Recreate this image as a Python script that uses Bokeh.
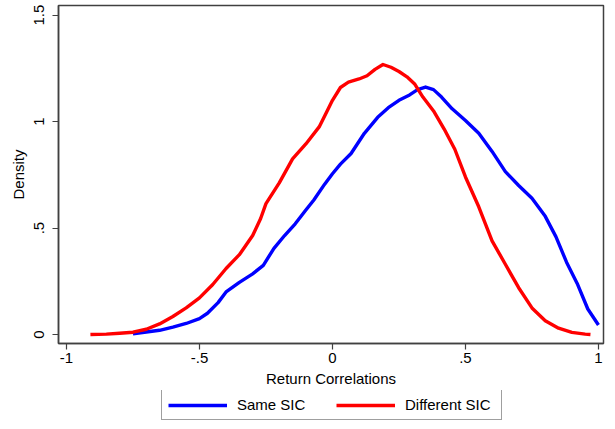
from bokeh.plotting import figure
from bokeh.layouts import column
from bokeh.models import Range1d, FixedTicker, Legend, LegendItem
from bokeh.embed import file_html
from bokeh.resources import INLINE

# Different SIC (red) kernel density
diff_x = [-0.91, -0.85, -0.80, -0.75, -0.70, -0.65, -0.60, -0.55, -0.50, -0.45,
          -0.40, -0.35, -0.30, -0.27, -0.25, -0.20, -0.15, -0.10, -0.05, -0.02,
          0.00, 0.03, 0.06, 0.10, 0.13, 0.16, 0.19, 0.22, 0.25, 0.28,
          0.31, 0.34, 0.38, 0.42, 0.46, 0.50, 0.55, 0.60, 0.65, 0.70,
          0.75, 0.80, 0.85, 0.90, 0.95, 0.97]
diff_y = [0.000, 0.002, 0.006, 0.011, 0.025, 0.050, 0.085, 0.125, 0.172, 0.235,
          0.310, 0.375, 0.465, 0.545, 0.615, 0.712, 0.825, 0.895, 0.975, 1.050,
          1.100, 1.160, 1.185, 1.200, 1.215, 1.245, 1.268, 1.255, 1.235, 1.210,
          1.175, 1.115, 1.050, 0.965, 0.870, 0.740, 0.600, 0.440, 0.330, 0.220,
          0.125, 0.065, 0.030, 0.010, 0.002, 0.000]

# Same SIC (blue) kernel density
same_x = [-0.75, -0.70, -0.65, -0.60, -0.55, -0.50, -0.47, -0.43, -0.40, -0.35,
          -0.30, -0.26, -0.22, -0.18, -0.14, -0.10, -0.07, -0.03, 0.00, 0.03,
          0.07, 0.12, 0.17, 0.21, 0.25, 0.29, 0.32, 0.35, 0.38, 0.41,
          0.45, 0.50, 0.55, 0.60, 0.65, 0.70, 0.75, 0.80, 0.84, 0.88,
          0.92, 0.96, 1.00]
same_y = [0.003, 0.012, 0.020, 0.035, 0.052, 0.075, 0.100, 0.150, 0.200, 0.245,
          0.285, 0.325, 0.405, 0.465, 0.520, 0.585, 0.632, 0.705, 0.755, 0.800,
          0.850, 0.945, 1.020, 1.065, 1.100, 1.125, 1.150, 1.162, 1.150, 1.115,
          1.060, 1.005, 0.945, 0.860, 0.765, 0.700, 0.640, 0.555, 0.460, 0.340,
          0.240, 0.120, 0.045]

series_labels = ["Same SIC", "Different SIC"]
series_colors = ["#0000ff", "#ff0000"]

x_ticks = [-1, -0.5, 0, 0.5, 1]
x_tick_labels = ["-1", "-.5", "0", ".5", "1"]
y_ticks = [0, 0.5, 1, 1.5]
y_tick_labels = ["0", ".5", "1", "1.5"]

FONT = "Liberation Sans"
FRAME = "#404040"

# ---- main plot ----
p = figure(width=607, height=390, output_backend="svg", toolbar_location=None,
           x_range=Range1d(-1.030, 1.019), y_range=Range1d(-0.042, 1.545),
           min_border_left=58, min_border_right=4, min_border_top=5,
           min_border_bottom=47)
p.grid.visible = False
p.outline_line_color = FRAME
p.outline_line_width = 1.5
p.background_fill_color = "white"
p.border_fill_color = "white"

p.line(same_x, same_y, line_color=series_colors[0], line_width=3.4, line_join="round")
p.line(diff_x, diff_y, line_color=series_colors[1], line_width=3.4, line_join="round")

xa = p.xaxis[0]
xa.ticker = FixedTicker(ticks=x_ticks)
xa.major_label_overrides = {t: s for t, s in zip(x_ticks, x_tick_labels)}
xa.axis_label = "Return Correlations"
ya = p.yaxis[0]
ya.ticker = FixedTicker(ticks=y_ticks)
ya.major_label_overrides = {t: s for t, s in zip(y_ticks, y_tick_labels)}
ya.axis_label = "Density"
ya.major_label_orientation = "vertical"

for ax in (xa, ya):
    ax.axis_line_color = FRAME
    ax.axis_line_width = 1.5
    ax.major_tick_line_color = FRAME
    ax.major_tick_line_width = 1.2
    ax.major_tick_out = 6
    ax.major_tick_in = 0
    ax.minor_tick_line_color = None
    ax.major_label_text_font = FONT
    ax.major_label_text_font_size = "15px"
    ax.major_label_text_color = "black"
    ax.axis_label_text_font = FONT
    ax.axis_label_text_font_size = "15px"
    ax.axis_label_text_font_style = "normal"
    ax.axis_label_text_color = "black"
xa.major_label_standoff = 3
xa.axis_label_standoff = 4
ya.major_label_standoff = 8
ya.axis_label_standoff = 5

# ---- legend strip (same series, drawn out of view; only the legend shows) ----
lg = figure(width=607, height=31, output_backend="svg", toolbar_location=None,
            x_range=Range1d(10, 11), y_range=Range1d(10, 11),
            x_axis_location=None, y_axis_location=None,
            min_border_left=0, min_border_right=0, min_border_top=0,
            min_border_bottom=0)
lg.grid.visible = False
lg.outline_line_color = None
r_same = lg.line(same_x, same_y, line_color=series_colors[0], line_width=3.4)
r_diff = lg.line(diff_x, diff_y, line_color=series_colors[1], line_width=3.4)

legend = Legend(items=[LegendItem(label=series_labels[0], renderers=[r_same]),
                       LegendItem(label=series_labels[1], renderers=[r_diff])],
                orientation="horizontal", location=(103, 1),
                glyph_width=59, glyph_height=16, label_width=90, label_height=16,
                label_standoff=10, spacing=9, padding=6, margin=0,
                border_line_color=FRAME, border_line_width=1.2,
                label_text_font=FONT, label_text_font_size="15px",
                label_text_color="black", background_fill_alpha=1)
lg.add_layout(legend, "center")

layout = column(p, lg, spacing=0)
open("out.html", "w").write(file_html(layout, INLINE))
